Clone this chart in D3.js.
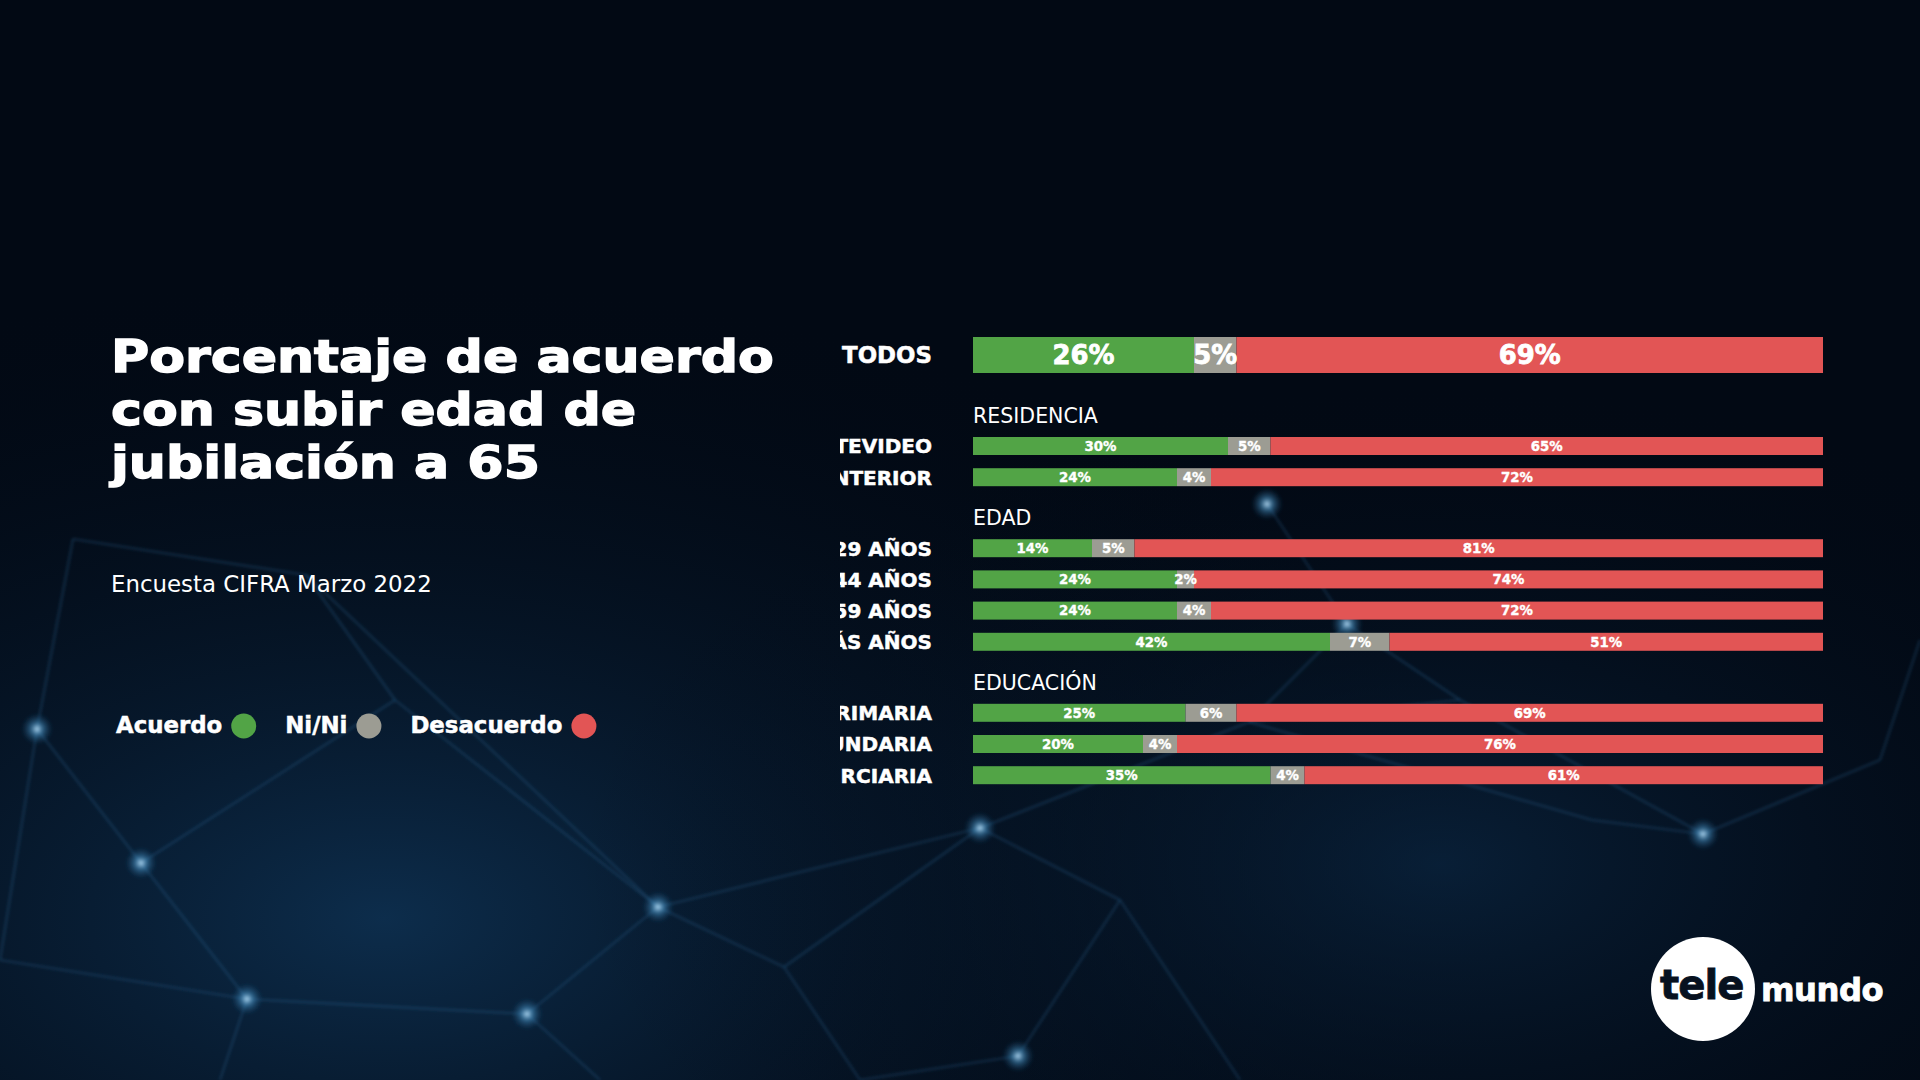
<!DOCTYPE html>
<html>
<head>
<meta charset="utf-8">
<script src="https://cdn.jsdelivr.net/npm/d3@7/dist/d3.min.js"></script>
<style>
  html, body { margin: 0; padding: 0; background: #020914; }
  svg { display: block; }
</style>
</head>
<body>
<svg id="chart" width="1920" height="1080"></svg>
<script>
// ---------------- DATA ----------------
const categories = ["TODOS", "MONTEVIDEO", "INTERIOR", "18 A 29 AÑOS", "30 A 44 AÑOS", "45 A 59 AÑOS", "60 Y MÁS AÑOS", "PRIMARIA", "SECUNDARIA", "TERCIARIA"];
const categoryGroups = ["", "RESIDENCIA", "RESIDENCIA", "EDAD", "EDAD", "EDAD", "EDAD", "EDUCACIÓN", "EDUCACIÓN", "EDUCACIÓN"];
const acuerdo    = [26, 30, 24, 14, 24, 24, 42, 25, 20, 35];
const nini       = [5, 5, 4, 5, 2, 4, 7, 6, 4, 4];
const desacuerdo = [69, 65, 72, 81, 74, 72, 51, 69, 76, 61];
const seriesKeys   = ["acuerdo", "nini", "desacuerdo"];
const seriesLabels = ["Acuerdo", "Ni/Ni", "Desacuerdo"];
const titleLines = ["Porcentaje de acuerdo", "con subir edad de", "jubilación a 65"];
const subtitle = "Encuesta CIFRA Marzo 2022";

// decorative backdrop network (not data)
const decorNodes = [[37,729],[141,863],[658,907],[527,1014],[980,828],[1703,834],[247,999],[1018,1056],[1347,624],[1267,504],[73,539],[306,575],[784,967],[1249,722],[1592,820],[395,700],[1120,900],[1460,700],[1880,760],[860,1080],[600,1080],[0,960],[1240,1080],[1920,640],[220,1080]];
const decorEdges = [[0,1],[0,10],[10,11],[11,15],[15,2],[1,6],[1,15],[6,3],[3,2],[2,12],[12,4],[4,13],[13,8],[8,9],[13,14],[14,5],[5,17],[17,8],[5,18],[4,16],[16,7],[12,19],[3,20],[6,21],[16,22],[18,23],[7,19],[6,24],[2,4],[13,17],[0,21],[11,2]];

// ---------------- SETUP ----------------
const W = 1920, H = 1080;
const svg = d3.select("#chart");
const colors = { acuerdo: "#52a446", nini: "#9c9c93", desacuerdo: "#e25555" };
const boldFont = "'DejaVu Sans', sans-serif";
const lightFont = "'DejaVu Sans', sans-serif";

// background
const defs = svg.append("defs");
const bg1 = defs.append("radialGradient").attr("id", "glow1").attr("cx", "20%").attr("cy", "85%").attr("r", "60%");
bg1.append("stop").attr("offset", "0%").attr("stop-color", "#0e3152").attr("stop-opacity", 0.9);
bg1.append("stop").attr("offset", "100%").attr("stop-color", "#020914").attr("stop-opacity", 0);
const bg2 = defs.append("radialGradient").attr("id", "glow2").attr("cx", "75%").attr("cy", "80%").attr("r", "45%");
bg2.append("stop").attr("offset", "0%").attr("stop-color", "#0b2845").attr("stop-opacity", 0.7);
bg2.append("stop").attr("offset", "100%").attr("stop-color", "#020914").attr("stop-opacity", 0);
const nodeGlow = defs.append("radialGradient").attr("id", "nodeGlow");
nodeGlow.append("stop").attr("offset", "0%").attr("stop-color", "#bfe6ff").attr("stop-opacity", 0.9);
nodeGlow.append("stop").attr("offset", "40%").attr("stop-color", "#4a9bd0").attr("stop-opacity", 0.5);
nodeGlow.append("stop").attr("offset", "100%").attr("stop-color", "#1b4f7a").attr("stop-opacity", 0);
defs.append("filter").attr("id", "blur").append("feGaussianBlur").attr("stdDeviation", 1.6);

svg.append("rect").attr("width", W).attr("height", H).attr("fill", "#020914");
svg.append("rect").attr("width", W).attr("height", H).attr("fill", "url(#glow1)");
svg.append("rect").attr("width", W).attr("height", H).attr("fill", "url(#glow2)");

const decor = svg.append("g").attr("filter", "url(#blur)");
decor.selectAll("line").data(decorEdges).join("line")
  .attr("x1", d => decorNodes[d[0]][0]).attr("y1", d => decorNodes[d[0]][1])
  .attr("x2", d => decorNodes[d[1]][0]).attr("y2", d => decorNodes[d[1]][1])
  .attr("stroke", "#2a6a9c").attr("stroke-opacity", 0.3).attr("stroke-width", 2.2);
decor.selectAll("circle").data(decorNodes.slice(0, 10)).join("circle")
  .attr("cx", d => d[0]).attr("cy", d => d[1]).attr("r", 16)
  .attr("fill", "url(#nodeGlow)");

// helper: fit font-size so text width equals target
function fitSize(sel, target) {
  const len = sel.node().getComputedTextLength();
  const fs = parseFloat(sel.attr("font-size"));
  return fs * target / len;
}

// ---------------- TITLE ----------------
const titleFs = 45;
const lineGap = 52.6;           // just above the font's box height, so lines do not collide
const midBaseline = 425;
const titleG = svg.append("g");
const tLines = titleG.selectAll("text").data(titleLines).join("text")
  .attr("x", 0).attr("y", 0)
  .attr("fill", "#ffffff").attr("stroke", "#ffffff").attr("stroke-width", 1.4)
  .attr("font-family", boldFont).attr("font-weight", 700).attr("font-size", titleFs)
  .text(d => d);
const l0 = tLines.nodes()[0].getComputedTextLength();
const sx = 663 / l0;   // widen glyphs to match the reference's broad typeface
tLines.attr("transform", (d, i) => `translate(111,${midBaseline + (i - 1) * lineGap}) scale(${sx},1)`);

const sub = svg.append("text").attr("x", 111).attr("y", 592)
  .attr("fill", "#ffffff").attr("font-family", lightFont).attr("font-weight", 400)
  .attr("font-size", 24).text(subtitle);
sub.attr("font-size", fitSize(sub, 321));

// ---------------- LEGEND ----------------
const legendG = svg.append("g");
const legTexts = legendG.selectAll("text").data(seriesLabels).join("text")
  .attr("y", 733).attr("fill", "#fff").attr("stroke", "#fff").attr("stroke-width", 0.5)
  .attr("font-family", boldFont).attr("font-weight", 700)
  .attr("font-size", 22).text(d => d);
const legSize = fitSize(d3.select(legTexts.nodes()[2]), 152);
legTexts.attr("font-size", legSize);
let lx = 116;
const legStarts = [];
legTexts.each(function (d, i) {
  const t = d3.select(this);
  t.attr("x", lx);
  const w = this.getComputedTextLength();
  legStarts.push(lx + w + 9 + 12.5);
  lx = lx + w + 9 + 25 + 29;
});
legendG.selectAll("circle").data(seriesKeys).join("circle")
  .attr("cx", (d, i) => legStarts[i]).attr("cy", 726).attr("r", 12.5)
  .attr("fill", d => colors[d]);

// ---------------- BARS ----------------
const table = categories.map((c, i) => ({
  category: c, group: categoryGroups[i],
  acuerdo: acuerdo[i], nini: nini[i], desacuerdo: desacuerdo[i]
}));

const x = d3.scaleLinear().domain([0, 100]).range([973, 1823]);

// vertical layout
const rowStep = 31.2, smallH = 18, bigH = 36;
const layout = [];
let y = 337, prevGroup = null, headers = [];
table.forEach((d, i) => {
  if (i === 0) {
    layout.push({ y: y, h: bigH });
    y = y + bigH + 50; // header baseline
    return;
  }
  if (d.group !== prevGroup) {
    if (prevGroup !== null) y = layout[i - 1].y + 57;
    headers.push({ name: d.group, y: y });
    y = y + 14;
    prevGroup = d.group;
  } else {
    y = layout[i - 1].y + rowStep;
  }
  layout.push({ y: y, h: smallH });
});

const stack = d3.stack().keys(seriesKeys);
const stacked = stack(table);

const barsG = svg.append("g");
const layers = barsG.selectAll("g.layer").data(stacked).join("g")
  .attr("class", "layer").attr("fill", s => colors[s.key]);
layers.selectAll("rect").data(s => s.map((v, i) => ({ v, i, key: s.key }))).join("rect")
  .attr("x", d => x(d.v[0]))
  .attr("width", d => x(d.v[1]) - x(d.v[0]))
  .attr("y", d => layout[d.i].y)
  .attr("height", d => layout[d.i].h);

// value labels
const bigFs = 30, smallFs = 13;
const valG = svg.append("g");
const valData = [];
stacked.forEach(s => s.forEach((v, i) => valData.push({ v, i, key: s.key, val: v.data[s.key] })));
const vals = valG.selectAll("text").data(valData).join("text")
  .attr("x", d => x((d.v[0] + d.v[1]) / 2))
  .attr("text-anchor", "middle")
  .attr("fill", "#fff").attr("stroke", "#fff")
  .attr("font-family", boldFont).attr("font-weight", 700)
  .attr("font-size", d => d.i === 0 ? bigFs : smallFs)
  .text(d => d.val + "%");
const bigNode = vals.filter(d => d.i === 0 && d.key === "acuerdo");
const bigSize = fitSize(bigNode, 62);
const smallNode = vals.filter(d => d.i === 1 && d.key === "acuerdo");
const smallSize = fitSize(smallNode, 32);
vals.attr("font-size", d => d.i === 0 ? bigSize : smallSize)
  .attr("stroke-width", d => d.i === 0 ? 0.8 : 0.35)
  .attr("y", d => layout[d.i].y + layout[d.i].h / 2 + (d.i === 0 ? bigSize : smallSize) * 0.365);

// section headers
const hdr = svg.append("g").selectAll("text").data(headers).join("text")
  .attr("x", 973).attr("y", d => d.y)
  .attr("fill", "#fff").attr("font-family", lightFont).attr("font-weight", 400)
  .attr("font-size", 19).text(d => d.name);
const hSize = fitSize(d3.select(hdr.nodes()[0]), 125);
hdr.attr("font-size", hSize);

// category labels (clipped on the left)
defs.append("clipPath").attr("id", "labelClip")
  .append("rect").attr("x", 840).attr("y", 300).attr("width", 110).attr("height", 520);
const labG = svg.append("g").attr("clip-path", "url(#labelClip)");
const labs = labG.selectAll("text").data(table).join("text")
  .attr("x", 932).attr("text-anchor", "end")
  .attr("fill", "#fff").attr("stroke", "#fff").attr("stroke-width", 0.5)
  .attr("font-family", boldFont).attr("font-weight", 700)
  .attr("font-size", 22).text(d => d.category);
const todosSize = fitSize(d3.select(labs.nodes()[0]), 90);
const labSmall = todosSize * 0.875;
labs.attr("font-size", (d, i) => i === 0 ? todosSize : labSmall)
  .attr("y", (d, i) => layout[i].y + layout[i].h / 2 + (i === 0 ? todosSize : labSmall) * 0.365);

// ---------------- LOGO ----------------
const logo = svg.append("g");
logo.append("circle").attr("cx", 1703).attr("cy", 989).attr("r", 52).attr("fill", "#ffffff");
const tele = logo.append("text").attr("x", 1660).attr("y", 999)
  .attr("fill", "#07111f").attr("stroke", "#07111f").attr("stroke-width", 0.8)
  .attr("font-family", boldFont).attr("font-weight", 700)
  .attr("font-size", 36).attr("letter-spacing", -1).text("tele");
tele.attr("font-size", fitSize(tele, 83));
const mundo = logo.append("text").attr("x", 1761).attr("y", 1001)
  .attr("fill", "#ffffff").attr("stroke", "#ffffff").attr("stroke-width", 0.8)
  .attr("font-family", boldFont).attr("font-weight", 700)
  .attr("font-size", 30).attr("letter-spacing", -0.5).text("mundo");
mundo.attr("font-size", fitSize(mundo, 122));
</script>
</body>
</html>
